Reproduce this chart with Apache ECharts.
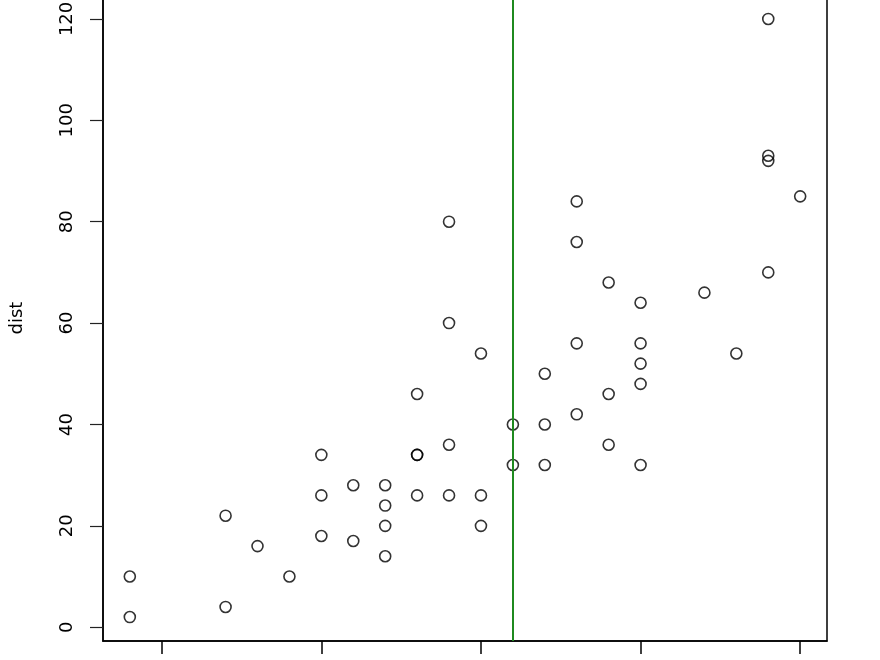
<!DOCTYPE html>
<html lang="en">
<head>
    <meta charset="UTF-8">
    <title>cars: speed vs dist</title>
    <style>
        html, body { margin: 0; padding: 0; background: #fff; }
        #main { width: 880px; height: 660px; }
    </style>
    <script src="https://cdnjs.cloudflare.com/ajax/libs/echarts/6.0.0/echarts.min.js"></script>
</head>
<body>
    <div id="main"></div>
    <script>
        // cars data (speed, stopping distance)
        const speed = [4, 4, 7, 7, 8, 9, 10, 10, 10, 11, 11, 12, 12, 12, 12, 13, 13, 13, 13, 14, 14, 14, 14,
            15, 15, 15, 16, 16, 17, 17, 17, 18, 18, 18, 18, 19, 19, 19, 20, 20, 20, 20, 20, 22, 23, 24, 24, 24, 24, 25];
        const dist = [2, 10, 4, 22, 16, 10, 18, 26, 34, 17, 28, 14, 20, 24, 28, 26, 34, 34, 46, 26, 36, 60, 80,
            20, 26, 54, 32, 40, 32, 40, 50, 42, 56, 76, 84, 36, 46, 68, 32, 48, 52, 56, 64, 66, 54, 70, 92, 93, 120, 85];
        const xTicks = [5, 10, 15, 20, 25];
        const yTicks = [0, 20, 40, 60, 80, 100, 120];
        const vLine = 16;

        const chart = echarts.init(document.getElementById('main'));
        const font = 'DejaVu Sans';

        const option = {
            animation: false,
            grid: {
                left: 103, right: 53, top: -5, bottom: 19,
                outerBoundsMode: 'none',
                containLabel: false,
                show: true, borderColor: '#000', borderWidth: 1.5, backgroundColor: 'transparent'
            },
            xAxis: {
                type: 'value',
                min: 3.16, max: 25.84,
                axisLine: { show: true, onZero: false, lineStyle: { color: '#000', width: 1.5 } },
                axisTick: { show: true, customValues: xTicks, length: 13, lineStyle: { color: '#000', width: 1.5 } },
                // labels sit below the visible area, as in the cropped original
                axisLabel: { show: true, customValues: xTicks, margin: 24, fontFamily: font, fontSize: 18, color: '#000' },
                splitLine: { show: false }
            },
            yAxis: {
                type: 'value',
                min: -2.72, max: 124.72,
                name: 'dist',
                nameLocation: 'middle',
                nameRotate: 90,
                nameGap: 77,
                nameTextStyle: { fontFamily: font, fontSize: 18, color: '#000' },
                axisLine: { show: true, onZero: false, lineStyle: { color: '#000', width: 1.5 } },
                axisTick: { show: true, customValues: yTicks, length: 13, lineStyle: { color: '#222', width: 1.2 } },
                axisLabel: { show: true, customValues: yTicks, rotate: 90, margin: 27, fontFamily: font, fontSize: 18, color: '#000' },
                splitLine: { show: false }
            },
            series: [{
                type: 'scatter',
                data: speed.map((s, i) => [s, dist[i]]),
                symbol: 'circle',
                symbolSize: 11,
                itemStyle: { color: 'transparent', borderColor: '#000', borderWidth: 1.6 },
                markLine: {
                    silent: true,
                    symbol: 'none',
                    label: { show: false },
                    lineStyle: { color: '#1f8a1f', width: 2, type: 'solid' },
                    data: [{ xAxis: vLine }]
                }
            }]
        };

        chart.setOption(option);
    </script>
</body>
</html>
